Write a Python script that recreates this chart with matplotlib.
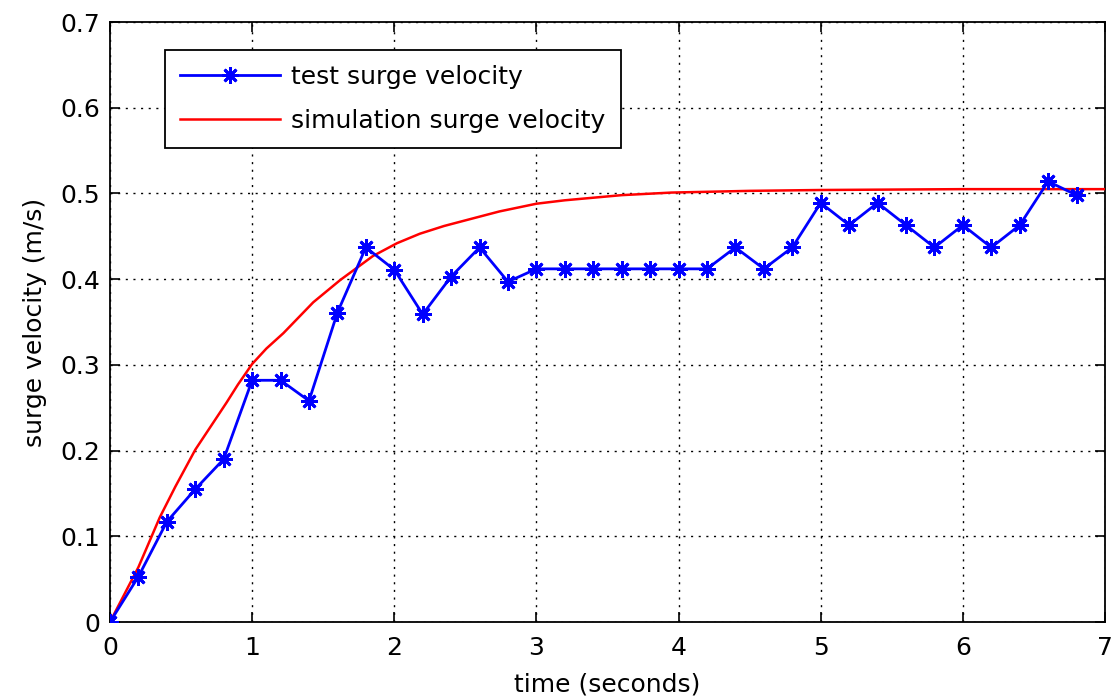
import matplotlib
matplotlib.use("Agg")
import matplotlib.pyplot as plt

# test data
test_t = [0.0, 0.2, 0.4, 0.6, 0.8, 1.0, 1.2, 1.4, 1.6, 1.8, 2.0, 2.2, 2.4, 2.6, 2.8,
          3.0, 3.2, 3.4, 3.6, 3.8, 4.0, 4.2, 4.4, 4.6, 4.8, 5.0, 5.2, 5.4, 5.6, 5.8,
          6.0, 6.2, 6.4, 6.6, 6.8]
test_v = [0.0, 0.053, 0.117, 0.155, 0.190, 0.282, 0.282, 0.258, 0.361, 0.437, 0.411,
          0.359, 0.403, 0.437, 0.397, 0.412, 0.412, 0.412, 0.412, 0.412, 0.412, 0.412,
          0.437, 0.412, 0.437, 0.489, 0.463, 0.489, 0.463, 0.437, 0.463, 0.437, 0.463,
          0.514, 0.498]

# simulation curve
sim_t = [0.0, 0.1, 0.2, 0.35, 0.46, 0.6, 0.74, 0.82, 0.9, 1.0, 1.1, 1.22, 1.43, 1.62,
         1.85, 2.02, 2.18, 2.35, 2.51, 2.74, 3.0, 3.2, 3.4, 3.6, 3.95, 4.5, 5.0, 6.0, 7.0]
sim_v = [0.0, 0.032, 0.064, 0.122, 0.158, 0.201, 0.236, 0.256, 0.277, 0.301, 0.319,
         0.337, 0.373, 0.399, 0.427, 0.442, 0.453, 0.462, 0.469, 0.479, 0.488, 0.492,
         0.495, 0.498, 0.501, 0.503, 0.504, 0.505, 0.505]

xticks = [0, 1, 2, 3, 4, 5, 6, 7]
yticks = [0, 0.1, 0.2, 0.3, 0.4, 0.5, 0.6, 0.7]
ytick_labels = ["0", "0.1", "0.2", "0.3", "0.4", "0.5", "0.6", "0.7"]

plt.rcParams['font.family'] = ['DejaVu Sans']
FS = 18

fig = plt.figure(figsize=(11.11, 6.97), dpi=100)
ax = fig.add_axes([110/1111, 1 - 622/697, 995/1111, 600/697])

ax.plot(sim_t, sim_v, color='red', lw=1.8, zorder=3, label='simulation surge velocity')
ax.plot(test_t, test_v, color='blue', lw=2.0, marker=(8, 2, 0), markersize=12,
        markeredgewidth=2.0, zorder=4, label='test surge velocity')

ax.set_xlim(0, 7)
ax.set_ylim(0, 0.7)
ax.set_xticks(xticks)
ax.set_yticks(yticks)
ax.set_yticklabels(ytick_labels)
ax.tick_params(direction='in', length=7, width=1.2, top=True, right=True,
               labelsize=FS, pad=7)
ax.tick_params(axis='x', pad=10)
ax.grid(True, color='black', linestyle=(0, (1.5, 4)), linewidth=1.0)
for s in ax.spines.values():
    s.set_linewidth(1.3)

ax.set_xlabel('time (seconds)', fontsize=FS, labelpad=9)
ax.set_ylabel('surge velocity (m/s)', fontsize=FS, labelpad=10)

h, l = ax.get_legend_handles_labels()
leg = ax.legend([h[1], h[0]], [l[1], l[0]], loc='upper left',
                bbox_to_anchor=((165 - 110) / 995, (622 - 50) / 600),
                fontsize=FS, frameon=True, fancybox=False, framealpha=1,
                edgecolor='black', handlelength=4.0, borderaxespad=0,
                handletextpad=0.45, labelspacing=0.8, borderpad=0.6)
leg.get_frame().set_linewidth(1.3)

fig.savefig('out.png', dpi=100)
